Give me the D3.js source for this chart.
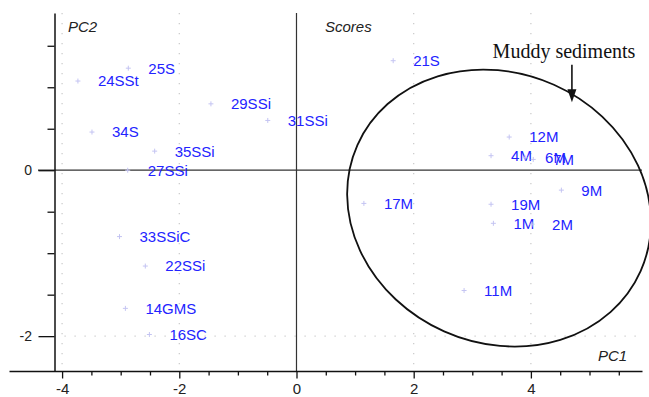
<!DOCTYPE html>
<html>
<head>
<meta charset="utf-8">
<script src="https://cdn.jsdelivr.net/npm/d3@7"></script>
<style>
  html, body { margin: 0; padding: 0; background: #fff; }
  svg { display: block; }
</style>
</head>
<body>
<svg id="chart" width="649" height="397"></svg>
<script>
// Sample names and their scores on the first two principal components
const sampleNames = ["24SSt", "25S", "29SSi", "31SSi", "34S", "35SSi", "27SSi", "21S",
  "12M", "4M", "6M", "7M", "9M", "17M", "19M", "1M", "2M", "11M",
  "33SSiC", "22SSi", "14GMS", "16SC"];
const pc1Scores = [-3.73, -2.87, -1.46, -0.49, -3.49, -2.42, -2.88, 1.65,
  3.63, 3.32, 3.90, 4.04, 4.52, 1.15, 3.32, 3.36, 4.02, 2.86,
  -3.02, -2.58, -2.92, -2.51];
const pc2Scores = [1.075, 1.23, 0.80, 0.60, 0.46, 0.23, 0.00, 1.32,
  0.40, 0.175, 0.15, 0.13, -0.24, -0.40, -0.41, -0.64, -0.65, -1.45,
  -0.80, -1.155, -1.665, -1.98];

// Axis ticks
const xMajorTicks = [-4, -2, 0, 2, 4];
const xMinorTicks = [-3.5, -3, -2.5, -1.5, -1, -0.5, 0.5, 1, 1.5, 2.5, 3, 3.5, 4.5, 5, 5.5];
const yMajorTicks = [0, -2];
const yMinorTicks = [1.5, 1, 0.5, -0.5, -1, -1.5];
const xGridValues = [-4, -2, 2, 4];
const yGridValues = [-2];

// Cluster outline for the muddy samples (centre in score units)
const clusterCentre = [3.456, -0.456];
const clusterLabel = "Muddy sediments";

const svg = d3.select("#chart");
const W = 649, H = 397;

const x = d3.scaleLinear().domain([-4.906, 5.896]).range([9, 642]);
const y = d3.scaleLinear().domain([1.895, -2.42]).range([13, 371]);
const axisX = 54.5;          // position of the vertical axis
const axisBottomY = 371;     // position of the horizontal axis

const fontSans = "'Liberation Sans', Arial, sans-serif";

// dotted grid
const grid = svg.append("g").attr("stroke", "#c9c9c9").attr("stroke-width", 1.2)
  .attr("stroke-dasharray", "1.2 8.8");
grid.selectAll("line.gx").data(xGridValues).join("line")
  .attr("x1", d => x(d)).attr("x2", d => x(d))
  .attr("y1", y.range()[0]).attr("y2", axisBottomY);
grid.selectAll("line.gy").data(yGridValues).join("line")
  .attr("x1", axisX).attr("x2", x.range()[1])
  .attr("y1", d => y(d)).attr("y2", d => y(d));

// zero lines
svg.append("line")
  .attr("x1", 38).attr("x2", x.range()[1])
  .attr("y1", y(0)).attr("y2", y(0))
  .attr("stroke", "#333").attr("stroke-width", 1.2);
svg.append("line")
  .attr("x1", x(0)).attr("x2", x(0))
  .attr("y1", y.range()[0]).attr("y2", axisBottomY)
  .attr("stroke", "#333").attr("stroke-width", 1.2);

// bottom axis
const fmt = d => String(d);
const gx = svg.append("g").attr("transform", `translate(0,${axisBottomY})`)
  .call(d3.axisBottom(x).tickValues(xMajorTicks.concat(xMinorTicks))
    .tickSize(7.5).tickSizeOuter(0).tickPadding(4.5)
    .tickFormat(d => xMajorTicks.includes(d) ? fmt(d) : ""));
gx.selectAll(".tick line").attr("y2", d => xMajorTicks.includes(d) ? 7.5 : 4.5);

// left axis
const gy = svg.append("g").attr("transform", `translate(${axisX},0)`)
  .call(d3.axisLeft(y).tickValues(yMajorTicks.concat(yMinorTicks))
    .tickSize(16).tickSizeOuter(0).tickPadding(6.5)
    .tickFormat(d => yMajorTicks.includes(d) ? fmt(d) : ""));
gy.selectAll(".tick line").attr("x2", d => yMajorTicks.includes(d) ? -16 : -7);

[gx, gy].forEach(g => {
  g.select(".domain").attr("stroke", "#111").attr("stroke-width", 1.5);
  g.selectAll(".tick line").attr("stroke", "#111").attr("stroke-width", 1.3);
  g.selectAll(".tick text").attr("fill", "#222").attr("font-family", fontSans);
});
gx.selectAll(".tick text").attr("font-size", 15);
gy.selectAll(".tick text").attr("font-size", 14);

// plot captions
const caption = (t, px, py) => svg.append("text").text(t)
  .attr("x", px).attr("y", py)
  .attr("font-family", fontSans).attr("font-style", "italic")
  .attr("font-size", 15).attr("fill", "#222");
caption("PC2", 68, 32);
caption("Scores", 325, 32);
caption("PC1", 598, 361);

// samples
const samples = sampleNames.map((n, i) => ({ name: n, pc1: pc1Scores[i], pc2: pc2Scores[i] }));
const pts = svg.append("g").selectAll("g").data(samples).join("g")
  .attr("transform", d => `translate(${x(d.pc1)},${y(d.pc2)})`);
pts.append("path")
  .attr("d", "M-2.5,0H2.5M0,-2.5V2.5")
  .attr("stroke", "#c4c4f2").attr("stroke-width", 1);
pts.append("text").text(d => d.name)
  .attr("x", 20).attr("dy", "0.36em")
  .attr("font-family", fontSans).attr("font-size", 15)
  .attr("fill", "#2323ff");

// cluster outline
svg.append("ellipse")
  .attr("cx", 0).attr("cy", 0).attr("rx", 155).attr("ry", 135)
  .attr("transform", `translate(${x(clusterCentre[0])},${y(clusterCentre[1])}) rotate(24)`)
  .attr("fill", "none").attr("stroke", "#111").attr("stroke-width", 1.8);

// annotation arrow and label
const arrowX = x(4.70), arrowTop = y(1.27), arrowTip = y(0.82);
svg.append("line")
  .attr("x1", arrowX).attr("x2", arrowX)
  .attr("y1", arrowTop).attr("y2", arrowTip - 10)
  .attr("stroke", "#111").attr("stroke-width", 1.6);
svg.append("path")
  .attr("d", `M${arrowX - 4.5},${arrowTip - 13}L${arrowX + 4.5},${arrowTip - 13}L${arrowX},${arrowTip}Z`)
  .attr("fill", "#111");
svg.append("text").text(clusterLabel)
  .attr("x", x(4.565)).attr("y", y(1.352))
  .attr("text-anchor", "middle")
  .attr("font-family", "'Liberation Serif', 'Times New Roman', serif")
  .attr("font-size", 20).attr("fill", "#111");
</script>
</body>
</html>
